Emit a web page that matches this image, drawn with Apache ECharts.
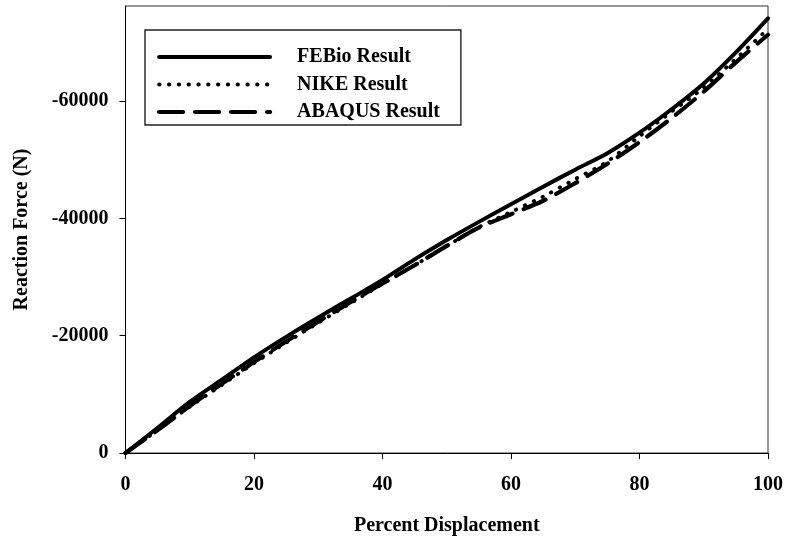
<!DOCTYPE html>
<html>
<head>
<meta charset="utf-8">
<script src="https://cdn.jsdelivr.net/npm/echarts@6/dist/echarts.min.js"></script>
<style>
html,body{margin:0;padding:0;background:#fff;}
#chart{width:786px;height:541px;}
</style>
</head>
<body>
<div id="chart"></div>
<script>
// Percent displacement (x)
const displacement = [0, 5, 10, 15, 20, 25, 30, 35, 40, 45, 50, 55, 60, 65, 70, 75, 80, 85, 90, 95, 100];
// Reaction force (N)
const febio  = [0, -4300, -8700, -12500, -16300, -19800, -23100, -26300, -29500, -33000, -36300, -39400, -42400, -45400, -48300, -51100, -54600, -58600, -63000, -68300, -74100];
const nike   = [0, -3900, -7900, -11600, -15300, -18800, -22200, -25500, -28800, -32000, -35300, -38500, -41100, -43700, -46700, -49700, -54000, -58200, -62300, -67200, -72300];
const abaqus = [0, -3900, -8000, -11800, -15500, -19000, -22400, -25700, -28900, -32000, -35300, -38400, -40700, -43000, -46000, -49300, -53000, -57100, -61600, -66600, -71300];
const seriesNames = ['FEBio Result', 'NIKE Result', 'ABAQUS Result'];
const xTicks = [0, 20, 40, 60, 80, 100];
const yTicks = [0, -20000, -40000, -60000];

const pairs = arr => displacement.map((x, i) => [x, arr[i]]);
const FONT = '"Liberation Serif", "Times New Roman", serif';

const solidStyle  = {color: '#000', width: 4, type: 'solid', cap: 'round', join: 'round'};
const dottedStyle = {color: '#000', width: 3.8, type: [0.5, 9.3], cap: 'round', join: 'round'};
const dashedStyle = {color: '#000', width: 4.2, type: [24, 12], cap: 'round', join: 'round'};
const styles = [solidStyle, dottedStyle, dashedStyle];

const chart = echarts.init(document.getElementById('chart'), null, {renderer: 'canvas'});
chart.setOption({
  animation: false,
  backgroundColor: '#ffffff',
  textStyle: {fontFamily: FONT, fontWeight: 'bold', color: '#000'},
  grid: {
    left: 125.5, right: 16, top: 6, bottom: 84,
    show: true, borderColor: '#333', borderWidth: 1, containLabel: false
  },
  legend: {
    orient: 'vertical',
    left: 145, top: 30,
    padding: [17, 21, 3, 12],
    itemWidth: 111, itemHeight: 14, itemGap: 7.5,
    borderColor: '#222', borderWidth: 1.4,
    backgroundColor: '#fff',
    data: seriesNames.map((n, i) => ({
      name: n,
      itemStyle: {opacity: 0},
      lineStyle: Object.assign({}, styles[i])
    })),
    textStyle: {fontFamily: FONT, fontWeight: 'bold', fontSize: 20, color: '#000', padding: [0, 0, 0, 22]}
  },
  xAxis: {
    type: 'value', min: 0, max: 100, interval: 20,
    name: 'Percent Displacement', nameLocation: 'middle', nameGap: 63,
    nameTextStyle: {fontFamily: FONT, fontWeight: 'bold', fontSize: 20, color: '#000'},
    axisLine: {show: true, onZero: false, lineStyle: {color: '#000', width: 1}},
    axisTick: {show: true, inside: false, length: 6, lineStyle: {color: '#000'}},
    axisLabel: {fontFamily: FONT, fontWeight: 'bold', fontSize: 20, color: '#000', margin: 22,
      customValues: xTicks, formatter: v => String(v)},
    splitLine: {show: false}
  },
  yAxis: {
    type: 'value', min: -76200, max: 0, inverse: true,
    name: 'Reaction Force (N)', nameLocation: 'middle', nameGap: 94, nameRotate: 90,
    nameTextStyle: {fontFamily: FONT, fontWeight: 'bold', fontSize: 20, color: '#000'},
    axisLine: {show: true, onZero: false, lineStyle: {color: '#000', width: 1}},
    axisTick: {show: true, inside: false, length: 6, lineStyle: {color: '#000'}, customValues: yTicks},
    axisLabel: {fontFamily: FONT, fontWeight: 'bold', fontSize: 20, color: '#000', margin: 17,
      customValues: yTicks, formatter: v => String(v)},
    splitLine: {show: false}
  },
  series: [
    {
      name: seriesNames[0], type: 'line', data: pairs(febio), showSymbol: false, symbol: 'none', smooth: 0.3,
      lineStyle: solidStyle, itemStyle: {color: '#000'}, z: 3
    },
    {
      name: seriesNames[1], type: 'line', data: pairs(nike), showSymbol: false, symbol: 'none', smooth: 0.3,
      lineStyle: dottedStyle, itemStyle: {color: '#000'}, z: 4
    },
    {
      name: seriesNames[2], type: 'line', data: pairs(abaqus), showSymbol: false, symbol: 'none', smooth: 0.3,
      lineStyle: dashedStyle, itemStyle: {color: '#000'}, z: 2
    }
  ]
});
</script>
</body>
</html>
